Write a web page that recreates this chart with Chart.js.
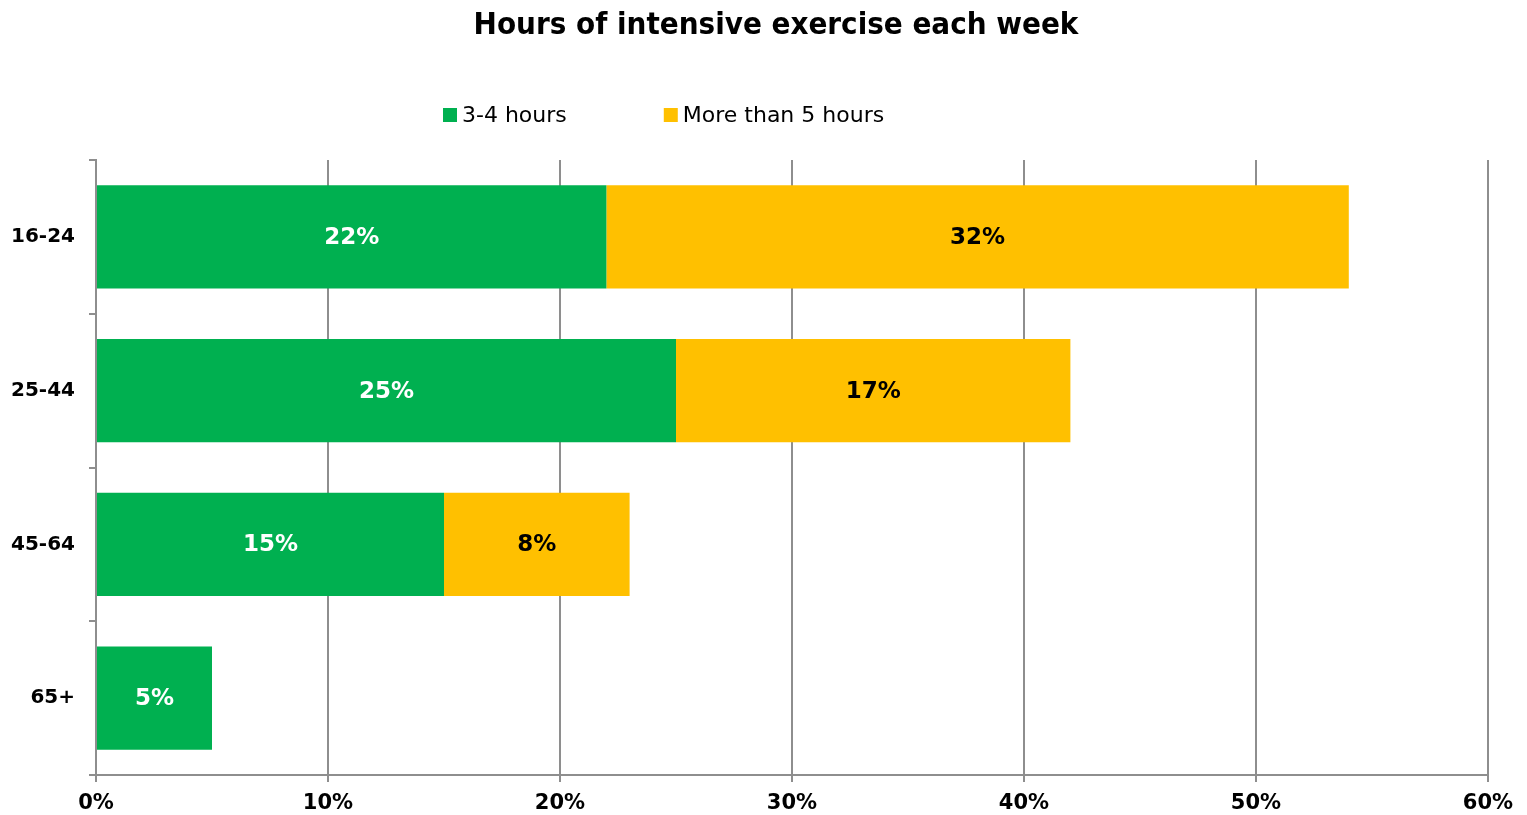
<!DOCTYPE html>
<html>
<head>
<meta charset="utf-8">
<title>Hours of intensive exercise each week</title>
<script src="https://cdn.jsdelivr.net/npm/chart.js@4/dist/chart.umd.min.js"></script>
<style>
  html, body { margin: 0; padding: 0; background: #fff; }
  #wrap { width: 1527px; height: 815px; }
</style>
</head>
<body>
<div id="wrap"><canvas id="exercise"></canvas></div>
<script>
const ageGroups = ['16-24', '25-44', '45-64', '65+'];
const threeToFourHours = [22, 25, 15, 5];
const moreThanFiveHours = [32, 17, 8, null];
const seriesNames = ['3-4 hours', 'More than 5 hours'];
const seriesColors = ['#00B050', '#FFC000'];
const labelColors = ['#ffffff', '#000000'];

const FONT = "'DejaVu Sans', Verdana, sans-serif";
const gridGrey = '#8e8e8e';

// title + legend drawn by hand so they can sit where we want them
const headerPlugin = {
  id: 'header',
  afterDraw(chart) {
    const ctx = chart.ctx;
    ctx.save();
    ctx.fillStyle = '#000';
    ctx.textBaseline = 'middle';
    ctx.textAlign = 'center';
    ctx.font = "bold 31px 'DejaVu Sans Condensed', " + FONT;
    ctx.fillText('Hours of intensive exercise each week', 776, 26);

    ctx.font = '22px ' + FONT;
    ctx.textAlign = 'left';
    let x = 443;
    seriesNames.forEach((name, i) => {
      ctx.fillStyle = seriesColors[i];
      ctx.fillRect(x, 108, 14, 14);
      ctx.fillStyle = '#000';
      ctx.fillText(name, x + 19, 116);
      x += 19 + ctx.measureText(name).width + 97;
    });
    ctx.restore();
  }
};

// value labels in the middle of each bar segment
const barLabels = {
  id: 'barLabels',
  afterDatasetsDraw(chart) {
    const ctx = chart.ctx;
    ctx.save();
    ctx.font = 'bold 23px ' + FONT;
    ctx.textAlign = 'center';
    ctx.textBaseline = 'middle';
    chart.data.datasets.forEach((ds, i) => {
      const meta = chart.getDatasetMeta(i);
      meta.data.forEach((bar, j) => {
        const v = ds.data[j];
        if (v == null) return;
        ctx.fillStyle = labelColors[i];
        ctx.fillText(v + '%', (bar.x + bar.base) / 2, bar.y + 1);
      });
    });
    ctx.restore();
  }
};

new Chart(document.getElementById('exercise'), {
  type: 'bar',
  data: {
    labels: ageGroups,
    datasets: [
      { label: seriesNames[0], data: threeToFourHours, backgroundColor: seriesColors[0] },
      { label: seriesNames[1], data: moreThanFiveHours, backgroundColor: seriesColors[1] }
    ]
  },
  options: {
    indexAxis: 'y',
    responsive: true,
    maintainAspectRatio: false,
    animation: false,
    layout: { padding: { top: 160, right: 39, left: 0, bottom: 0 } },
    datasets: { bar: { barPercentage: 0.67, categoryPercentage: 1 } },
    plugins: {
      legend: { display: false },
      title: { display: false },
      tooltip: { enabled: false }
    },
    scales: {
      x: {
        stacked: true,
        min: 0,
        max: 60,
        ticks: {
          stepSize: 10,
          padding: 9,
          color: '#000',
          font: { family: FONT, size: 21, weight: 'bold' },
          callback: v => v + '%'
        },
        grid: { color: gridGrey, lineWidth: 2, tickLength: 7 },
        border: { color: gridGrey, width: 2 },
        afterFit(scale) { scale.height = 40; }
      },
      y: {
        stacked: true,
        ticks: {
          padding: 14,
          color: '#000',
          font: { family: FONT, size: 20, weight: 'bold' }
        },
        grid: { offset: true, drawOnChartArea: false, color: gridGrey, lineWidth: 2, tickLength: 7 },
        border: { color: gridGrey, width: 2 },
        afterFit(scale) { scale.width = 96; }
      }
    }
  },
  plugins: [headerPlugin, barLabels]
});
</script>
</body>
</html>
